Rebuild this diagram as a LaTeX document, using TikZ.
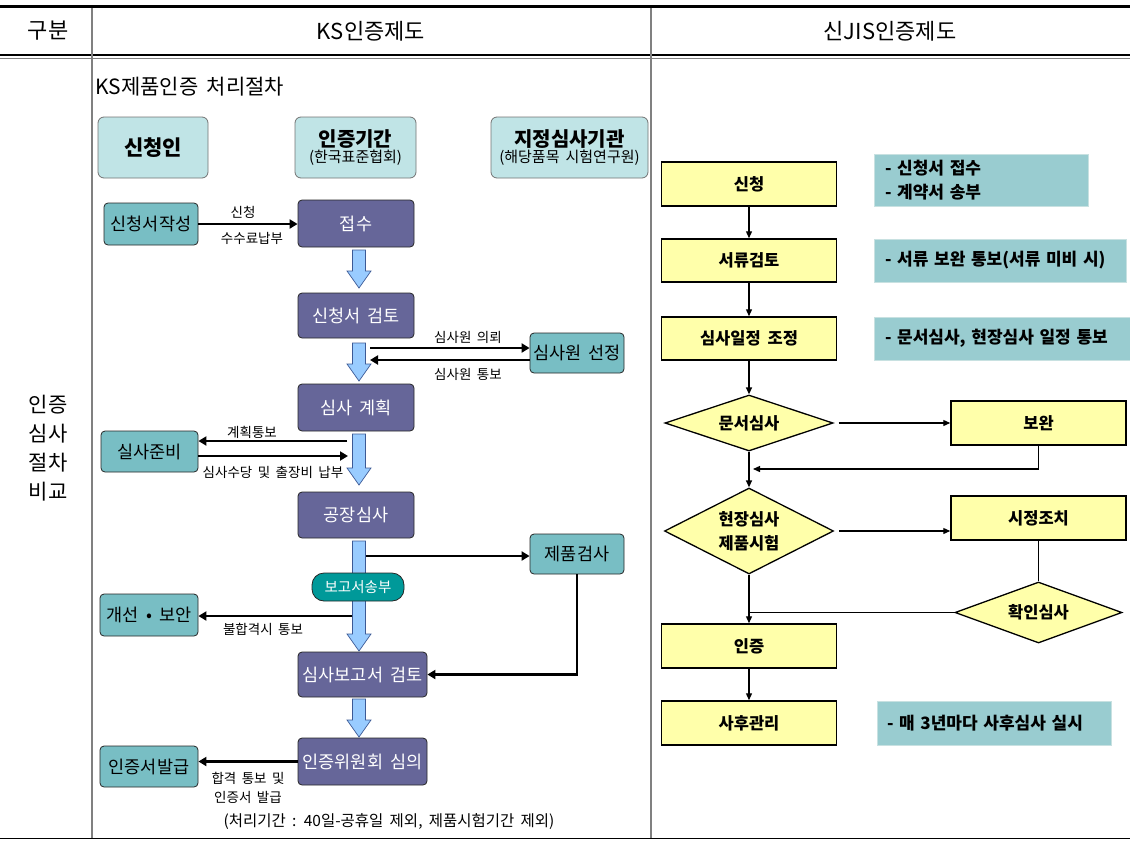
\documentclass[tikz,border=0pt]{standalone}
\usepackage{fontspec}
\newfontfamily\kr[WordSpace=1.8]{Noto Sans CJK KR}
\usetikzlibrary{shapes.geometric,arrows.meta,calc}
\definecolor{purpc}{RGB}{102,102,153}
\definecolor{tealc}{RGB}{120,190,196}
\definecolor{headc}{RGB}{192,228,230}
\definecolor{bluec}{RGB}{153,204,255}
\definecolor{bluebd}{RGB}{60,90,150}
\definecolor{pillc}{RGB}{0,153,153}
\definecolor{yelc}{RGB}{255,255,170}
\definecolor{notec}{RGB}{153,204,208}
\definecolor{notebd}{RGB}{200,225,225}
\definecolor{rulec}{RGB}{128,128,128}
\newcommand\blkarrow[3]{%
  \draw[bluearr] (#1-6.5,#2) -- (#1+6.5,#2) -- (#1+6.5,#3-17) -- (#1+12,#3-17) -- (#1,#3) -- (#1-12,#3-17) -- (#1-6.5,#3-17) -- cycle;}
\tikzset{
  purp/.style={draw=black!85, fill=purpc, rounded corners=4pt, text=white, inner sep=0, line width=0.8pt, font=\kr\fontsize{17.5}{20}\selectfont},
  tealb/.style={draw=black!85, fill=tealc, rounded corners=4pt, inner sep=0, line width=0.8pt, font=\kr\fontsize{17.5}{20}\selectfont},
  headb/.style={draw=black!55, fill=headc, rounded corners=6pt, inner sep=0, line width=0.8pt, align=center, minimum height=61},
  ybox/.style={draw=black, fill=yelc, line width=1.5pt, minimum width=175, minimum height=44, inner sep=0, font=\kr\bfseries\fontsize{16.5}{19}\selectfont},
  ydia/.style={diamond, aspect=2, draw=black, fill=yelc, line width=1.3pt, inner sep=0, align=center, font=\kr\bfseries\fontsize{16.5}{24}\selectfont},
  notebox/.style={draw=notebd, fill=notec, line width=1pt, inner ysep=0, inner xsep=11, align=left, font=\kr\bfseries\fontsize{17}{24}\selectfont},
  lbl/.style={font=\kr\fontsize{13.5}{15}\selectfont, inner sep=0},
  thk/.style={line width=2.6pt, -{Triangle[length=8pt,width=9pt]}},
  thn/.style={line width=1.3pt, -{Triangle[length=7pt,width=6pt]}},
  thnline/.style={line width=1.3pt},
  bluearr/.style={draw=bluebd, fill=bluec, line width=0.7pt, line join=miter},
  hdr/.style={font=\kr\fontsize{22}{24}\selectfont, inner sep=0},
}
\begin{document}
\begin{tikzpicture}[x=1pt,y=-1pt]
\useasboundingbox (0,0) rectangle (1130,841);
% table rules
\draw[line width=2.6pt] (0,6.5) -- (1130,6.5);
\draw[line width=1.1pt] (0,55) -- (1130,55);
\draw[line width=1.1pt, draw=rulec] (0,58.5) -- (1130,58.5);
\draw[line width=1.4pt] (0,838.5) -- (1130,838.5);
\draw[line width=1.5pt, draw=rulec] (92,8) -- (92,838);
\draw[line width=1.5pt, draw=rulec] (651,8) -- (651,838);
% header texts
\node[hdr] (h1) at (48,31) {구분};
\node[hdr] (h2) at (371,31) {KS인증제도};
\node[hdr] (h3) at (890,31) {신JIS인증제도};
\node[hdr, align=center, font=\kr\fontsize{21}{29}\selectfont] (side) at (48,448) {인증\\심사\\절차\\비교};
\node[font=\kr\fontsize{21}{24}\selectfont, anchor=west, inner sep=0] (title) at (95,87) {KS제품인증 처리절차};
% header boxes
\node[headb, minimum width=110, font=\kr\bfseries\fontsize{21}{24}\selectfont] (hA) at (153,147.5) {신청인};
\node[headb, minimum width=121] (hB) at (355.5,147.5) {{\kr\bfseries\fontsize{20}{24}\selectfont 인증기간}\\[1pt]{\kr\fontsize{15}{16}\selectfont (한국표준협회)}};
\node[headb, minimum width=157] (hC) at (569.5,147.5) {{\kr\bfseries\fontsize{20}{24}\selectfont 지정심사기관}\\[1pt]{\kr\fontsize{15}{16}\selectfont (해당품목 시험연구원)}};
% purple process boxes
\node[purp, minimum width=116, minimum height=47] (p1) at (356,223.5) {접수};
\node[purp, minimum width=116, minimum height=45] (p2) at (356,315.5) {신청서 검토};
\node[purp, minimum width=116, minimum height=47] (p3) at (356,407.5) {심사 계획};
\node[purp, minimum width=116, minimum height=46] (p4) at (356,515) {공장심사};
\node[purp, minimum width=129, minimum height=45] (p5) at (362.5,674.5) {심사보고서 검토};
\node[purp, minimum width=129, minimum height=47] (p6) at (362.5,761.5) {인증위원회 심의};
% teal boxes
\node[tealb, minimum width=94, minimum height=42] (t1) at (151,224) {신청서작성};
\node[tealb, minimum width=94, minimum height=40] (t2) at (577,353) {심사원 선정};
\node[tealb, minimum width=97, minimum height=41] (t3) at (149.5,451.5) {실사준비};
\node[tealb, minimum width=94, minimum height=40] (t4) at (577,554) {제품검사};
\node[tealb, minimum width=98, minimum height=42] (t5) at (149,615) {개선 • 보안};
\node[tealb, minimum width=98, minimum height=41] (t6) at (149,766.5) {인증서발급};
% block arrows
\blkarrow{359}{250}{288}
\blkarrow{359}{343}{381}
\blkarrow{359}{434}{485}
\blkarrow{359}{541}{651}
\blkarrow{359}{699}{737}
% pill
\node[draw=black!85, fill=pillc, rounded corners=12pt, minimum width=92, minimum height=28, inner sep=0, text=white, font=\kr\fontsize{14.5}{16}\selectfont, line width=0.8pt] (pill) at (358,587) {보고서송부};
% shaft coordinates
\coordinate (s1) at (370,348);
\coordinate (s2) at (370,360);
\coordinate (s3) at (347,441);
\coordinate (s4) at (348,456);
\coordinate (s5) at (366,556);
\coordinate (s6) at (352,616);
% black arrows
\draw[thk] (t1.east) -- (t1.east -| p1.west);
\node[lbl] (l1) at (243,212) {신청};
\node[lbl] (l2) at (252,238) {수수료납부};
\draw[thk] (s1) -- (s1 -| t2.west);
\draw[thk] (s2 -| t2.west) -- (s2);
\node[lbl] (l3) at (468,337) {심사원 의뢰};
\node[lbl] (l4) at (468,374) {심사원 통보};
\draw[thk] (s3) -- (s3 -| t3.east);
\draw[thk] (s4 -| t3.east) -- (s4);
\node[lbl] (l5) at (252,432) {계획통보};
\node[lbl] (l6) at (273,472) {심사수당 및 출장비 납부};
\draw[thk] (s5) -- (s5 -| t4.west);
\draw[thk] (s6) -- (s6 -| t5.east);
\node[lbl] (l7) at (263,629) {불합격시 통보};
\draw[line width=2.2pt, -{Triangle[length=8pt,width=9pt]}] (t4.south) -- (t4.south |- p5.east) -- (p5.east);
\draw[thk] (p6.west) -- (p6.west -| t6.east);
\node[lbl] (l8) at (248,778) {합격 통보 및};
\node[lbl] (l9) at (248,797) {인증서 발급};
\node[font=\kr\fontsize{15.5}{19}\selectfont, inner sep=0] (period) at (389,822) {(처리기간 : 40일-공휴일 제외, 제품시험기간 제외)};
% right flow
\node[ybox] (r1) at (749,184) {신청};
\node[ybox, minimum height=43] (r2) at (749,260.5) {서류검토};
\node[ybox, minimum height=43] (r3) at (749,338.5) {심사일정 조정};
\node[ydia, minimum width=168, minimum height=56] (d1) at (749,423) {문서심사};
\node[ybox] (q1) at (1038.5,423) {보완};
\node[ydia, minimum width=169, minimum height=86] (d2) at (749,531) {현장심사\\제품시험};
\node[ybox] (q2) at (1038.5,518) {시정조치};
\node[ydia, minimum width=167, minimum height=61] (d3) at (1038.5,612.5) {확인심사};
\node[ybox] (r4) at (749,646) {인증};
\node[ybox] (r5) at (749,723) {사후관리};
% notes
\node[notebox, minimum width=214, minimum height=52, text width=192] (n1) at (981,180) {- 신청서 접수\\- 계약서 송부};
\node[notebox, minimum width=252, minimum height=43, text width=230] (n2) at (1000,260.5) {- 서류 보완 통보(서류 미비 시)};
\node[notebox, minimum width=260, minimum height=43, text width=238] (n3) at (1004,338.5) {- 문서심사, 현장심사 일정 통보};
\node[notebox, minimum width=234, minimum height=44, text width=214, inner xsep=10] (n4) at (994,723) {- 매 3년마다 사후심사 실시};
% right connectors
\coordinate (m1) at (753,469);
\draw[thn] (r1.south) -- (r2.north);
\draw[thn] (r2.south) -- (r3.north);
\draw[thn] (r3.south) -- (d1.north);
\draw[thn] ([xshift=5pt]d1.east) -- (q1.west);
\draw[thn] (q1.south) |- (m1);
\draw[thn] (d1.south) -- (d2.north);
\draw[thn] ([xshift=5pt]d2.east) -- (d2.east -| q2.west);
\draw[thnline] (q2.south) -- (d3.north);
\draw[thnline] (d3.west) -- (d3.west -| r4.north);
\draw[thn] (d2.south) -- (r4.north);
\draw[thn] (r4.south) -- (r5.north);
\end{tikzpicture}
\end{document}
